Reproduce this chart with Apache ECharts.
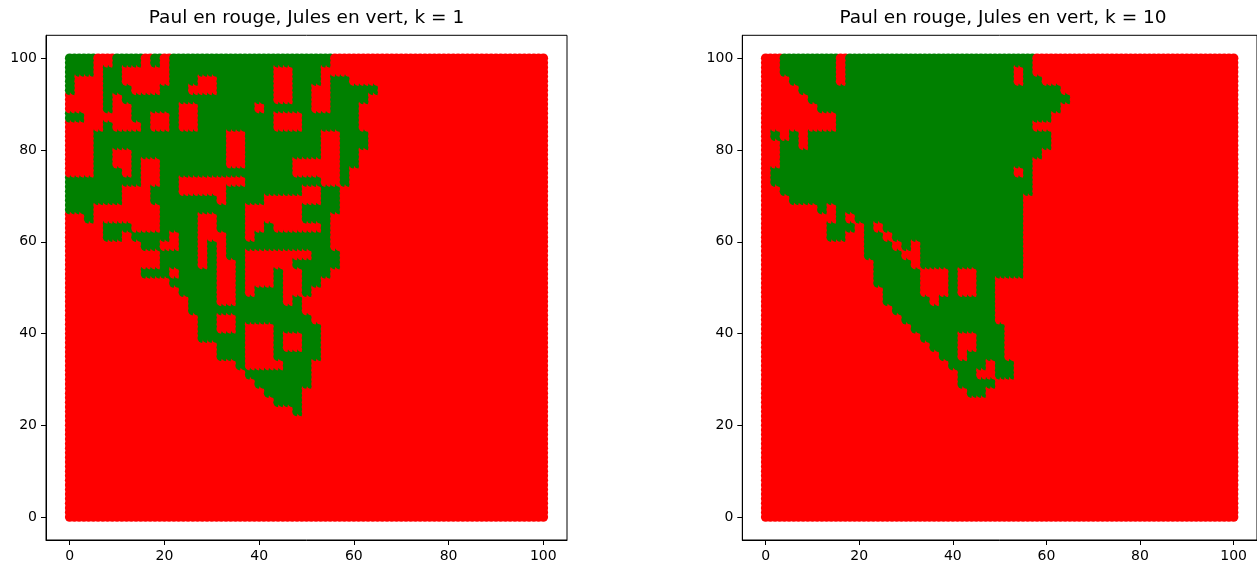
<!DOCTYPE html>
<html><head><meta charset="utf-8">
<script src="https://cdn.jsdelivr.net/npm/echarts@6/dist/echarts.min.js"></script>
<style>html,body{margin:0;padding:0;background:#fff}#c{width:1257px;height:563px}</style>
</head><body><div id="c"></div>
<script>
// ---- data ----
const titles = ['Paul en rouge, Jules en vert, k = 1', 'Paul en rouge, Jules en vert, k = 10'];
const xTicks = [0, 20, 40, 60, 80, 100];
const yTicks = [0, 20, 40, 60, 80, 100];
const gridX = Array.from({length: 101}, (_, i) => i);   // point columns 0..100
const gridY = Array.from({length: 101}, (_, i) => i);   // point rows 0..100
// Green (Jules) cells. Row r covers y = 100-2r and 99-2r; each [a,b] covers x = 2a .. 2b+1.
const julesK1 = [
 [[0,2],[5,7],[9,9],[11,27]],
 [[0,2],[4,5],[11,21],[24,26]],
 [[0,0],[4,5],[11,13],[16,21],[24,26],[28,29]],
 [[0,0],[4,6],[10,12],[16,21],[24,25],[28,32]],
 [[4,4],[6,21],[24,25],[28,31]],
 [[4,4],[7,11],[14,19],[21,25],[28,30]],
 [[0,1],[7,8],[11,11],[14,21],[25,30]],
 [[4,4],[8,8],[11,11],[14,21],[25,30]],
 [[3,16],[19,26],[29,31]],
 [[3,16],[19,26],[29,31]],
 [[3,4],[7,16],[19,26],[29,30]],
 [[3,4],[7,7],[10,16],[19,23],[29,30]],
 [[3,5],[7,7],[10,23],[29,29]],
 [[0,7],[10,11],[19,26],[29,29]],
 [[0,5],[9,11],[17,24],[27,28]],
 [[0,5],[9,15],[17,20],[27,28]],
 [[0,2],[10,18],[25,28]],
 [[2,2],[10,13],[16,18],[25,27]],
 [[4,6],[10,13],[16,18],[21,21],[27,27]],
 [[4,5],[7,10],[12,13],[17,18],[20,27]],
 [[8,9],[12,13],[15,15],[17,27]],
 [[10,13],[15,15],[17,18],[26,28]],
 [[10,13],[15,15],[18,18],[24,28]],
 [[8,10],[12,15],[18,18],[22,22],[25,27]],
 [[11,15],[18,18],[22,22],[25,26]],
 [[12,15],[18,18],[20,22],[25,25]],
 [[13,15],[18,22],[24,24]],
 [[13,24]],
 [[14,15],[18,25]],
 [[14,15],[18,18],[22,26]],
 [[14,18],[22,22],[25,26]],
 [[16,18],[22,22],[25,26]],
 [[16,18],[22,26]],
 [[18,18],[23,25]],
 [[19,25]],
 [[20,25]],
 [[21,24]],
 [[22,24]],
 [[24,24]]
];
const julesK10 = [
 [[2,7],[9,28]],
 [[2,7],[9,26],[28,28]],
 [[3,7],[9,26],[28,29]],
 [[4,31]],
 [[5,32]],
 [[6,31]],
 [[8,30]],
 [[8,28]],
 [[1,1],[3,3],[5,30]],
 [[2,3],[5,30]],
 [[2,29]],
 [[2,28]],
 [[1,26],[28,28]],
 [[1,28]],
 [[2,28]],
 [[3,27]],
 [[6,6],[8,27]],
 [[8,8],[10,27]],
 [[7,9],[11,11],[13,27]],
 [[7,8],[11,12],[14,27]],
 [[11,13],[15,15],[17,27]],
 [[11,14],[17,27]],
 [[12,15],[17,27]],
 [[12,16],[20,20],[23,27]],
 [[12,16],[20,20],[23,24]],
 [[13,16],[20,20],[23,24]],
 [[13,17],[19,24]],
 [[14,24]],
 [[15,24]],
 [[16,25]],
 [[17,20],[23,25]],
 [[18,20],[23,25]],
 [[19,20],[22,25]],
 [[20,23],[25,26]],
 [[21,22],[25,26]],
 [[21,24]],
 [[22,23]]
];
const RED = '#ff0000', GREEN = '#008000';

function isJules(mask, x, y) {
  const row = mask[Math.floor((100 - y) / 2)];
  if (!row) return 0;
  const c = Math.floor(x / 2);
  for (const [a, b] of row) if (c >= a && c <= b) return 1;
  return 0;
}
function buildData(mask) {
  const d = [];
  for (const x of gridX) for (const y of gridY) d.push([x, y, isJules(mask, x, y)]);
  return d;
}

const FONT = 'DejaVu Sans';
const grids = [
  {left: 46, top: 35.3, width: 521, height: 505},
  {left: 742.3, top: 35.3, width: 521.4, height: 505}
];
function axis(g, ticks) {
  return {gridIndex: g, type: 'value', min: -5, max: 105,
    axisLine: {show: true, onZero: false, lineStyle: {color: '#000', width: 1}},
    splitLine: {show: false},
    axisTick: {show: true, length: 5, inside: false, customValues: ticks, lineStyle: {color: '#000', width: 1}},
    axisLabel: {customValues: ticks, color: '#000', fontSize: 14, fontFamily: FONT, margin: 9}};
}
function series(g, mask) {
  return {type: 'scatter', xAxisIndex: g, yAxisIndex: g, data: buildData(mask),
    symbol: 'circle', symbolSize: 9.6, silent: true, large: false, progressive: 0,
    animation: false,
    itemStyle: {opacity: 1, color: p => p.data[2] ? GREEN : RED}};
}

const chart = echarts.init(document.getElementById('c'), null, {renderer: 'canvas'});
chart.setOption({
  animation: false,
  backgroundColor: '#fff',
  title: titles.map((t, i) => ({text: t, left: grids[i].left + grids[i].width / 2, top: 9,
    textAlign: 'center', padding: 0,
    textStyle: {fontFamily: FONT, fontSize: 18.5, fontWeight: 'normal', color: '#000'}})),
  grid: grids.map(g => Object.assign({show: true, borderColor: '#000', borderWidth: 1, backgroundColor: 'transparent'}, g)),
  xAxis: [axis(0, xTicks), axis(1, xTicks)],
  yAxis: [axis(0, yTicks), axis(1, yTicks)],
  series: [series(0, julesK1), series(1, julesK10)]
});
</script></body></html>
